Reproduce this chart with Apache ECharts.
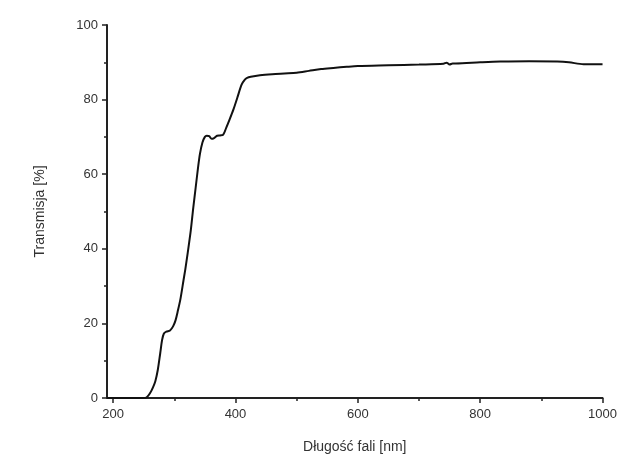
<!DOCTYPE html>
<html>
<head>
<meta charset="utf-8">
<script src="https://cdn.jsdelivr.net/npm/echarts@6/dist/echarts.min.js"></script>
<style>html,body{margin:0;padding:0;background:#fff;}#c{width:620px;height:459px;}</style>
</head>
<body>
<div id="c"></div>
<script>
var wavelength = [190, 200, 220, 240, 250, 255, 260, 265, 269, 273, 277, 280, 283, 287, 293, 298, 302, 306, 310, 315, 318, 322, 327, 331, 335, 339, 342, 346, 350, 353, 357, 361, 365, 370, 375, 380, 385, 390, 397, 403, 410, 415, 419, 425, 440, 460, 480, 500, 520, 540, 560, 582, 600, 650, 700, 740, 745, 750, 755, 760, 800, 833, 880, 926, 945, 969, 1000];
var transmission = [0, 0, 0, 0, 0, 0.2, 1.2, 2.8, 4.5, 7.5, 12.0, 15.5, 17.3, 17.8, 18.1, 19.2, 20.8, 23.5, 26.5, 31.5, 34.5, 39, 45, 51, 56.5, 62, 65.5, 68.5, 70, 70.3, 70.2, 69.5, 69.7, 70.3, 70.4, 70.6, 72.5, 74.5, 77.5, 80.5, 84, 85.3, 85.8, 86.1, 86.5, 86.8, 87.0, 87.2, 87.7, 88.2, 88.5, 88.8, 89.0, 89.2, 89.4, 89.6, 89.9, 89.4, 89.7, 89.7, 90.0, 90.2, 90.3, 90.2, 90.0, 89.5, 89.5];
var xMajorTicks = [200, 400, 600, 800, 1000];
var xMinorTicks = [300, 500, 700, 900];
var xTitle = 'Długość fali [nm]';
var yTitle = 'Transmisja [%]';

var pts = wavelength.map(function (w, i) { return [w, transmission[i]]; });
var font = 'Liberation Sans, Arial, sans-serif';
var chart = echarts.init(document.getElementById('c'), null, { renderer: 'canvas' });
chart.setOption({
  animation: false,
  backgroundColor: '#fff',
  grid: { left: 107, right: 17, top: 25, bottom: 59 },
  xAxis: [{
    type: 'value', min: 190, max: 1000,
    name: xTitle, nameLocation: 'middle', nameGap: 42,
    nameTextStyle: { fontFamily: font, fontSize: 14, color: '#333' },
    axisLine: { show: true, lineStyle: { color: '#222', width: 2 } },
    axisTick: { show: true, length: 5, lineStyle: { color: '#222', width: 1.5 }, customValues: xMajorTicks },
    axisLabel: { fontFamily: font, fontSize: 13, color: '#333', margin: 10, customValues: xMajorTicks,
      formatter: function (v) { return String(v); } },
    splitLine: { show: false }
  }, {
    type: 'value', min: 190, max: 1000, position: 'bottom',
    axisLine: { show: false },
    axisTick: { show: true, length: 3, lineStyle: { color: '#222', width: 1.5 }, customValues: xMinorTicks },
    axisLabel: { show: false, customValues: xMinorTicks },
    splitLine: { show: false }
  }],
  yAxis: {
    type: 'value', min: 0, max: 100, interval: 20,
    name: yTitle, nameLocation: 'middle', nameGap: 60,
    nameTextStyle: { fontFamily: font, fontSize: 14, color: '#333' },
    axisLine: { show: true, lineStyle: { color: '#222', width: 2 } },
    axisTick: { show: true, length: 5, lineStyle: { color: '#222', width: 1.5 } },
    minorTick: { show: true, splitNumber: 2, length: 3, lineStyle: { color: '#222', width: 1.5 } },
    axisLabel: { fontFamily: font, fontSize: 13, color: '#333', margin: 9 },
    splitLine: { show: false }
  },
  series: [{
    type: 'line', data: pts, xAxisIndex: 0, showSymbol: false, smooth: 0.3,
    lineStyle: { color: '#111', width: 2 }
  }]
});
</script>
</body>
</html>
